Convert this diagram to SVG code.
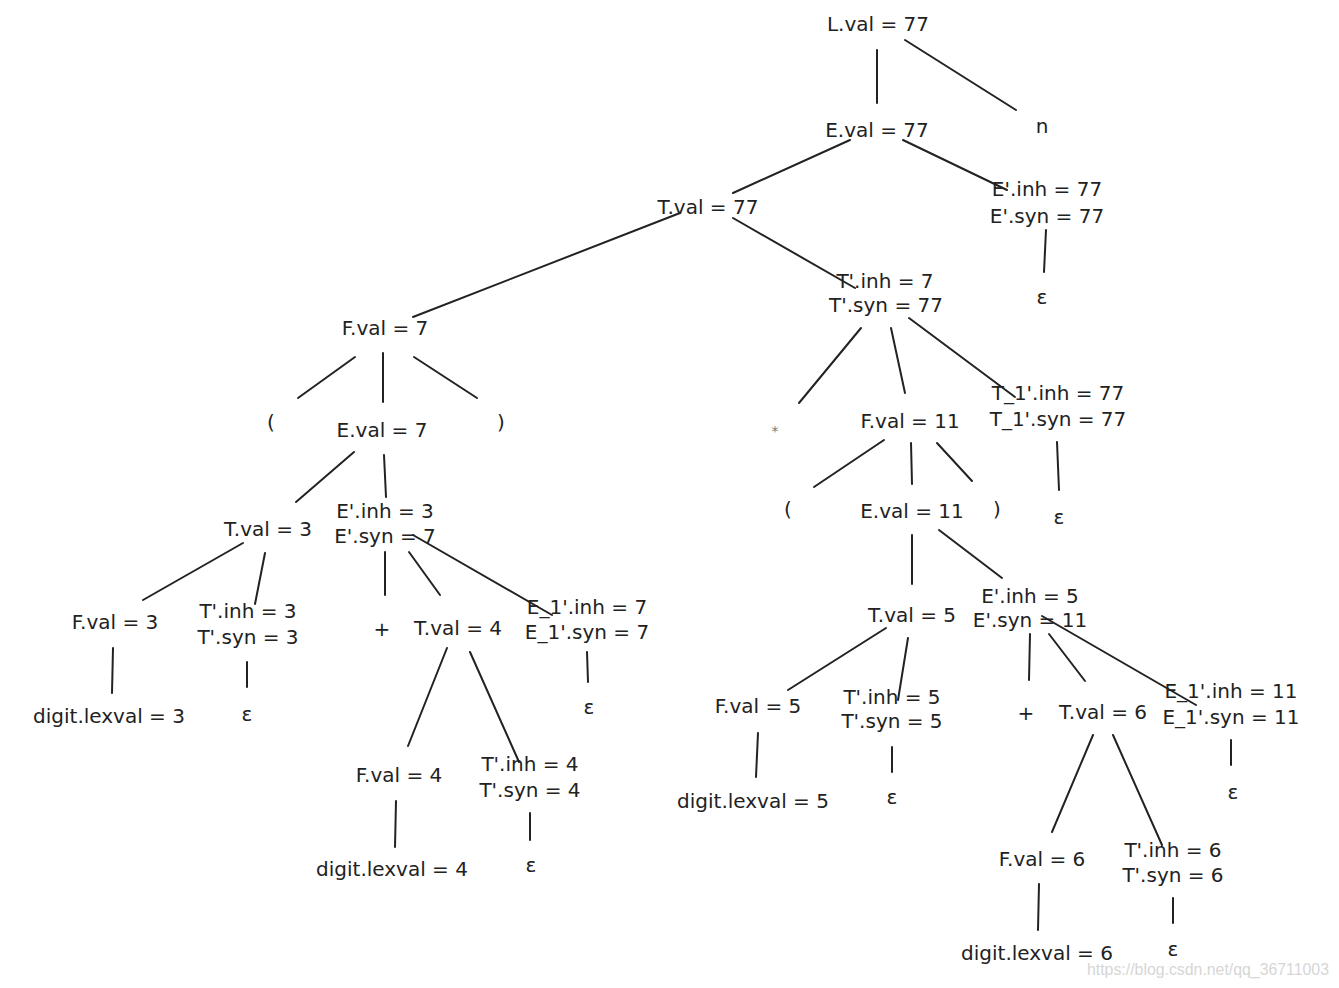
<svg xmlns="http://www.w3.org/2000/svg" width="1339" height="988" viewBox="0 0 1339 988">
<style>
text{font-family:"DejaVu Sans","Liberation Sans",sans-serif;font-size:20px;fill:#222;text-anchor:middle}
.e line{stroke:#222;stroke-width:2;stroke-linecap:round}
.wm{font-family:"Liberation Sans",sans-serif;font-size:16px;fill:#d6d6d6;text-anchor:start}
.star{font-size:14px;fill:#777}
</style>
<rect width="1339" height="988" fill="#fff"/>
<g class="e" id="connectors">
<line x1="877" y1="50" x2="877" y2="103"/>
<line x1="905" y1="40" x2="1016" y2="110"/>
<line x1="850" y1="140" x2="733" y2="193"/>
<line x1="903" y1="140" x2="1007" y2="190"/>
<line x1="680" y1="213" x2="413" y2="317"/>
<line x1="733" y1="218" x2="855" y2="288"/>
<line x1="1046" y1="230" x2="1044" y2="272"/>
<line x1="355" y1="357" x2="298" y2="398"/>
<line x1="383" y1="353" x2="383" y2="402"/>
<line x1="414" y1="357" x2="477" y2="398"/>
<line x1="354" y1="452" x2="296" y2="502"/>
<line x1="384" y1="455" x2="386" y2="497"/>
<line x1="243" y1="543" x2="143" y2="600"/>
<line x1="265" y1="553" x2="255" y2="604"/>
<line x1="385" y1="552" x2="385" y2="595"/>
<line x1="409" y1="552" x2="440" y2="595"/>
<line x1="413" y1="535" x2="552" y2="615"/>
<line x1="113" y1="648" x2="112" y2="693"/>
<line x1="247" y1="662" x2="247" y2="687"/>
<line x1="447" y1="648" x2="408" y2="746"/>
<line x1="470" y1="652" x2="519" y2="762"/>
<line x1="587" y1="652" x2="588" y2="682"/>
<line x1="396" y1="801" x2="395" y2="847"/>
<line x1="530" y1="813" x2="530" y2="840"/>
<line x1="861" y1="328" x2="799" y2="403"/>
<line x1="891" y1="328" x2="905" y2="393"/>
<line x1="909" y1="318" x2="1015" y2="397"/>
<line x1="1057" y1="442" x2="1059" y2="490"/>
<line x1="884" y1="440" x2="814" y2="487"/>
<line x1="911" y1="443" x2="912" y2="484"/>
<line x1="937" y1="443" x2="972" y2="481"/>
<line x1="912" y1="535" x2="912" y2="584"/>
<line x1="939" y1="530" x2="1002" y2="578"/>
<line x1="886" y1="628" x2="788" y2="690"/>
<line x1="908" y1="638" x2="898" y2="700"/>
<line x1="1030" y1="634" x2="1029" y2="680"/>
<line x1="1049" y1="634" x2="1085" y2="681"/>
<line x1="1042" y1="616" x2="1196" y2="705"/>
<line x1="1093" y1="735" x2="1052" y2="832"/>
<line x1="1113" y1="735" x2="1162" y2="845"/>
<line x1="1231" y1="740" x2="1231" y2="765"/>
<line x1="758" y1="733" x2="756" y2="777"/>
<line x1="892" y1="747" x2="892" y2="772"/>
<line x1="1039" y1="884" x2="1038" y2="930"/>
<line x1="1173" y1="898" x2="1173" y2="923"/>
</g>
<g id="n_L"><text x="878" y="31">L.val = 77</text></g>
<g id="n_n"><text x="1042" y="133">n</text></g>
<g id="n_E"><text x="877" y="137">E.val = 77</text></g>
<g id="n_T"><text x="708" y="214">T.val = 77</text></g>
<g id="n_Ep"><text x="1047" y="196">E'.inh = 77</text><text x="1047" y="223">E'.syn = 77</text></g>
<g id="n_eps1"><text x="1042" y="304">ε</text></g>
<g id="n_Tp"><text x="885" y="288">T'.inh = 7</text><text x="886" y="312">T'.syn = 77</text></g>
<g id="n_F7"><text x="385" y="335">F.val = 7</text></g>
<g id="n_lp1"><text x="271" y="429">(</text></g>
<g id="n_E7"><text x="382" y="437">E.val = 7</text></g>
<g id="n_rp1"><text x="501" y="429">)</text></g>
<g id="n_star"><text class="star" x="775" y="436">*</text></g>
<g id="n_F11"><text x="910" y="428">F.val = 11</text></g>
<g id="n_T1p"><text x="1058" y="400">T_1'.inh = 77</text><text x="1058" y="426">T_1'.syn = 77</text></g>
<g id="n_eps2"><text x="1059" y="524">ε</text></g>
<g id="n_lp2"><text x="788" y="516">(</text></g>
<g id="n_E11"><text x="912" y="518">E.val = 11</text></g>
<g id="n_rp2"><text x="997" y="516">)</text></g>
<g id="n_T3"><text x="268" y="536">T.val = 3</text></g>
<g id="n_Ep37"><text x="385" y="518">E'.inh = 3</text><text x="385" y="543">E'.syn = 7</text></g>
<g id="n_F3"><text x="115" y="629">F.val = 3</text></g>
<g id="n_Tp3"><text x="248" y="618">T'.inh = 3</text><text x="248" y="644">T'.syn = 3</text></g>
<g id="n_plus1"><text x="382" y="636">+</text></g>
<g id="n_T4"><text x="458" y="635">T.val = 4</text></g>
<g id="n_E1p7"><text x="587" y="614">E_1'.inh = 7</text><text x="587" y="639">E_1'.syn = 7</text></g>
<g id="n_d3"><text x="109" y="723">digit.lexval = 3</text></g>
<g id="n_eps3"><text x="247" y="721">ε</text></g>
<g id="n_eps4"><text x="589" y="714">ε</text></g>
<g id="n_F4"><text x="399" y="782">F.val = 4</text></g>
<g id="n_Tp4"><text x="530" y="771">T'.inh = 4</text><text x="530" y="797">T'.syn = 4</text></g>
<g id="n_d4"><text x="392" y="876">digit.lexval = 4</text></g>
<g id="n_eps5"><text x="531" y="872">ε</text></g>
<g id="n_T5"><text x="912" y="622">T.val = 5</text></g>
<g id="n_Ep511"><text x="1030" y="603">E'.inh = 5</text><text x="1030" y="627">E'.syn = 11</text></g>
<g id="n_F5"><text x="758" y="713">F.val = 5</text></g>
<g id="n_Tp5"><text x="892" y="704">T'.inh = 5</text><text x="892" y="728">T'.syn = 5</text></g>
<g id="n_plus2"><text x="1026" y="720">+</text></g>
<g id="n_T6"><text x="1103" y="719">T.val = 6</text></g>
<g id="n_E1p11"><text x="1231" y="698">E_1'.inh = 11</text><text x="1231" y="724">E_1'.syn = 11</text></g>
<g id="n_eps6"><text x="1233" y="799">ε</text></g>
<g id="n_d5"><text x="753" y="808">digit.lexval = 5</text></g>
<g id="n_eps7"><text x="892" y="804">ε</text></g>
<g id="n_F6"><text x="1042" y="866">F.val = 6</text></g>
<g id="n_Tp6"><text x="1173" y="857">T'.inh = 6</text><text x="1173" y="882">T'.syn = 6</text></g>
<g id="n_d6"><text x="1037" y="960">digit.lexval = 6</text></g>
<g id="n_eps8"><text x="1173" y="956">ε</text></g>
<text class="wm" x="1087" y="975" textLength="242" lengthAdjust="spacingAndGlyphs">https://blog.csdn.net/qq_36711003</text>
</svg>
